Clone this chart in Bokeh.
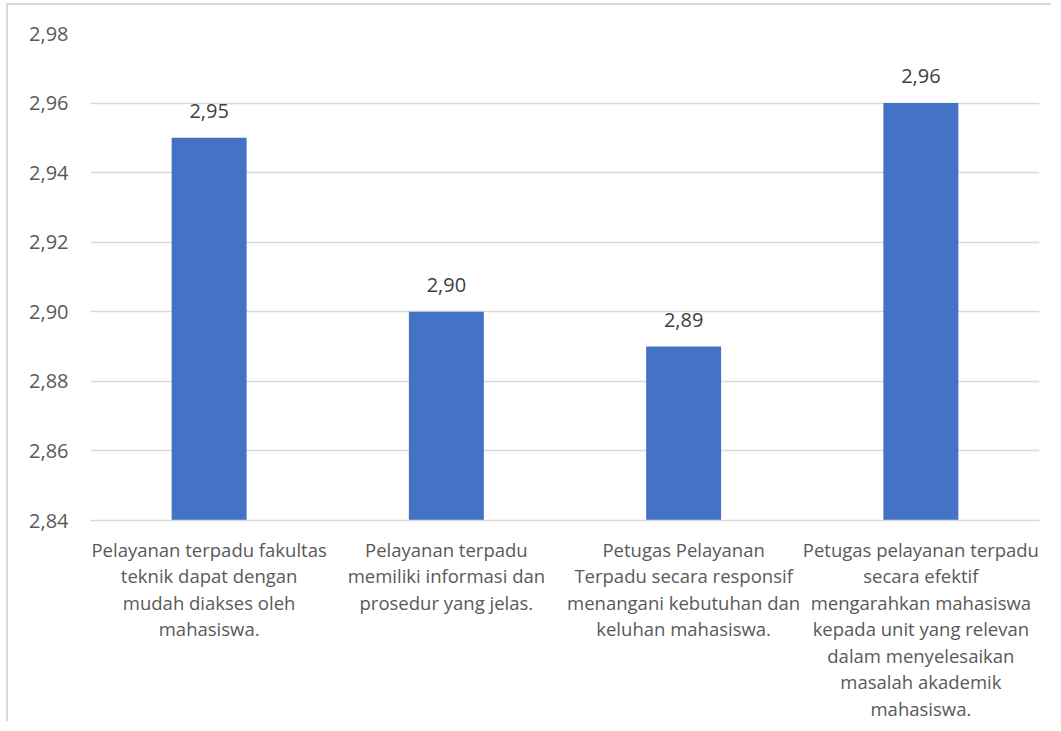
from bokeh.plotting import figure
from bokeh.models import FixedTicker, ColumnDataSource
from bokeh.core.properties import value
from bokeh.embed import file_html
from bokeh.resources import INLINE

categories = [
    "Pelayanan terpadu fakultas\nteknik dapat dengan\nmudah diakses oleh\nmahasiswa.",
    "Pelayanan terpadu\nmemiliki informasi dan\nprosedur yang jelas.",
    "Petugas Pelayanan\nTerpadu secara responsif\nmenangani kebutuhan dan\nkeluhan mahasiswa.",
    "Petugas pelayanan terpadu\nsecara efektif\nmengarahkan mahasiswa\nkepada unit yang relevan\ndalam menyelesaikan\nmasalah akademik\nmahasiswa.",
]
values = [2.95, 2.90, 2.89, 2.96]
y_ticks = [2.84, 2.86, 2.88, 2.90, 2.92, 2.94, 2.96, 2.98]
y_tick_labels = ["2,84", "2,86", "2,88", "2,90", "2,92", "2,94", "2,96", "2,98"]
value_labels = [f"{v:.2f}".replace(".", ",") for v in values]

FONT = "Open Sans"

src = ColumnDataSource(dict(cat=categories, val=values, lab=value_labels))

p = figure(
    x_range=categories, y_range=(2.84, 2.98),
    width=1045, height=718,
    output_backend="svg", toolbar_location=None,
    min_border_left=82, min_border_top=28, min_border_right=14, min_border_bottom=190,
)
p.styles = {"border-left": "2px solid #d9d9d9", "border-top": "2px solid #d9d9d9",
            "margin-left": "6px", "margin-top": "3px"}

p.vbar(x="cat", top="val", bottom=2.84, width=0.316, source=src,
       fill_color="#4472C4", line_color=None)

p.text(x="cat", y="val", text="lab", source=src, text_align="center",
       text_baseline="alphabetic", y_offset=-27, text_font=value(FONT),
       text_font_size="20px", text_color="#404040")

p.outline_line_color = None
p.xgrid.grid_line_color = None
p.ygrid.grid_line_color = "#d9d9d9"
p.ygrid.grid_line_width = 1.5

p.yaxis.ticker = FixedTicker(ticks=y_ticks)
p.yaxis.major_label_overrides = {t: l for t, l in zip(y_ticks, y_tick_labels)}
p.yaxis.axis_line_color = None
p.yaxis.major_tick_line_color = None
p.yaxis.major_tick_out = 0
p.yaxis.major_tick_in = 0
p.yaxis.minor_tick_line_color = None
p.yaxis.major_label_text_font = FONT
p.yaxis.major_label_text_font_size = "20px"
p.yaxis.major_label_text_color = "#595959"
p.yaxis.major_label_standoff = 22

p.xaxis.axis_line_color = "#d9d9d9"
p.xaxis.axis_line_width = 1.5
p.xaxis.major_tick_line_color = None
p.xaxis.minor_tick_line_color = None
p.xaxis.major_label_text_font = FONT
p.xaxis.major_label_text_font_size = "18.5px"
p.xaxis.major_label_text_color = "#595959"
p.xaxis.major_label_text_line_height = 1.06
p.xaxis.major_label_standoff = 10
p.xaxis.major_label_orientation = "horizontal"

open("out.html", "w").write(file_html(p, INLINE))
